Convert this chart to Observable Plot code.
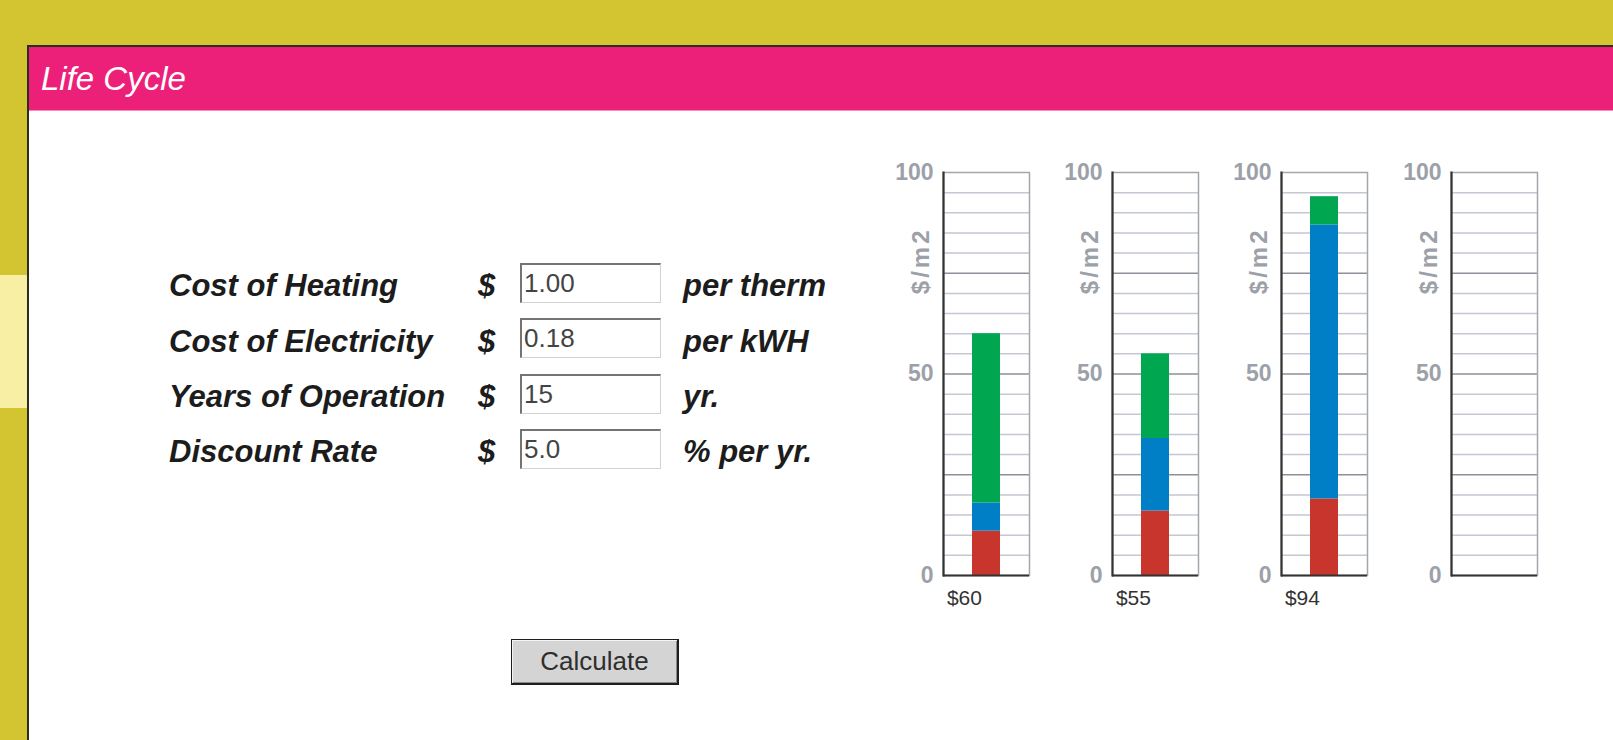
<!DOCTYPE html>
<html>
<head>
<meta charset="utf-8">
<script src="https://cdn.jsdelivr.net/npm/d3@7"></script>
<script src="https://cdn.jsdelivr.net/npm/@observablehq/plot@0.6"></script>
<style>
  html, body { margin: 0; padding: 0; overflow: hidden; }
  html { background: #D3C531; }
  body { width: 1613px; height: 740px; position: relative;
         background: #D3C531; font-family: "Liberation Sans", Arial, sans-serif; }
  .stripe { position: absolute; left: 0; top: 275px; width: 27px; height: 133px; background: #F8EFA4; }
  .panel { position: absolute; left: 27px; top: 45px; width: 1584px; height: 695px; background: #fff;
           border-top: 2px solid #2e2c22; border-left: 2px solid #2e2c22; }
  .header { position: absolute; left: 29px; top: 47px; width: 1584px; height: 63px; background: #EC2079;
            border-bottom: 1px solid #F58DB8; }
  .title { position: absolute; left: 41px; top: 62px; font-size: 33px; line-height: 33px; font-style: italic;
           color: #fff; white-space: nowrap; }
  .row { position: absolute; left: 0; width: 900px; height: 40px; }
  .lab { position: absolute; top: 3.3px; font-size: 31px; line-height: 40px; font-style: italic; font-weight: bold;
         color: #1c1c1c; white-space: nowrap; }
  .box { position: absolute; left: 520px; top: 0; width: 141px; height: 40px; box-sizing: border-box;
         border-top: 2px solid #747474; border-left: 2px solid #747474; border-right: 1px solid #d2d2d2;
         border-bottom: 1px solid #d2d2d2; padding-left: 2px; font-size: 26px; line-height: 36px; color: #444;
         background: #fff; white-space: nowrap; }
  .btn { position: absolute; left: 511px; top: 639px; width: 168px; height: 46px; box-sizing: border-box;
         border: 1px solid #1e1e1e; border-right-width: 2px; border-bottom-width: 2px; background: #d4d4d4;
         box-shadow: inset 1px 1px 0 #f4f4f4, inset -1px -1px 0 #8a8a8a;
         font-size: 26px; line-height: 42px; text-align: center; color: #2e2e2e; }
  #charts { position: absolute; left: 883.3px; top: 149.7px; display: flex; gap: 19.1px; }
  #charts svg { overflow: visible; }
</style>
</head>
<body>
<div class="stripe"></div>
<div class="panel"></div>
<div class="header"></div>
<div class="title">Life Cycle</div>
<div id="form"></div>
<div class="btn">Calculate</div>
<div id="charts"></div>
<script>
// ---- data ----
const fieldLabels = ["Cost of Heating", "Cost of Electricity", "Years of Operation", "Discount Rate"];
const fieldCurrency = ["$", "$", "$", "$"];
const fieldValues = ["1.00", "0.18", "15", "5.0"];
const fieldUnits = ["per therm", "per kWH", "yr.", "% per yr."];

const plans = ["Option 1", "Option 2", "Option 3", "Option 4"];
const components = ["Component 1", "Component 2", "Component 3"];
const component1 = [11, 16, 19, 0];   // red (bottom)
const component2 = [7, 18, 68, 0];    // blue (middle)
const component3 = [42, 21, 7, 0];    // green (top)
const totalLabels = ["$60", "$55", "$94", ""];
const yTicks = [0, 50, 100];
const yUnit = "$/m2";

// ---- form ----
const form = document.getElementById("form");
fieldLabels.forEach((lab, i) => {
  const row = document.createElement("div");
  row.className = "row";
  row.style.top = (263 + i * 55.33) + "px";
  row.innerHTML =
    `<span class="lab" style="left:169px">${lab}</span>` +
    `<span class="lab" style="left:478px">${fieldCurrency[i]}</span>` +
    `<div class="box">${fieldValues[i]}</div>` +
    `<span class="lab" style="left:683px">${fieldUnits[i]}</span>`;
  form.appendChild(row);
});

// ---- charts ----
const series = [component1, component2, component3];
const colors = ["#C8352D", "#007FC6", "#00A650"];
const charts = document.getElementById("charts");
const minor = d3.range(5, 100, 5).filter(v => v % 25 !== 0);
const major = [25, 50, 75];

plans.forEach((plan, i) => {
  const rows = components.map((c, k) => ({plan, comp: c, value: series[k][i]})).filter(d => d.value > 0);
  const svg = Plot.plot({
    width: 150, height: 471,
    marginLeft: 60, marginRight: 4, marginTop: 22, marginBottom: 46,
    style: {fontFamily: "Liberation Sans, Arial, sans-serif", background: "transparent", overflow: "visible"},
    x: {type: "band", domain: [plan], paddingInner: 0, paddingOuter: 1.03, axis: null},
    y: {domain: [0, 100], axis: null},
    color: {domain: components, range: colors},
    marks: [
      Plot.ruleY(minor, {stroke: "#c3c8d1", strokeWidth: 1.5}),
      Plot.ruleY(major, {stroke: "#8c9199", strokeWidth: 1.5}),
      Plot.frame({stroke: "#a2a6ad", strokeWidth: 1.5}),
      Plot.barY(rows, {x: "plan", y: "value", fill: "comp"}),
      Plot.ruleY([0], {stroke: "#333", strokeWidth: 2.2}),
      Plot.frame({anchor: "left", stroke: "#333", strokeWidth: 2.2}),
      Plot.axisY(yTicks, {tickSize: 0, tickPadding: 10, fontSize: 23, fontWeight: "bold", fill: "#9ca1a9", label: null}),
      Plot.text([yUnit], {frameAnchor: "top-left", dx: -22.6, dy: 88.3, rotate: -90, textAnchor: "middle",
                          lineAnchor: "middle", fontSize: 24, fontWeight: "bold", fill: "#9ca1a9"}),
      Plot.text([totalLabels[i]], {frameAnchor: "bottom-left", dx: 3.4, dy: 23, textAnchor: "start",
                          lineAnchor: "middle", fontSize: 21, fill: "#333"})
    ]
  });
  d3.select(svg).selectAll("text").filter(function() { return this.textContent === yUnit; })
    .attr("letter-spacing", "3px");
  charts.appendChild(svg);
});
</script>
</body>
</html>
